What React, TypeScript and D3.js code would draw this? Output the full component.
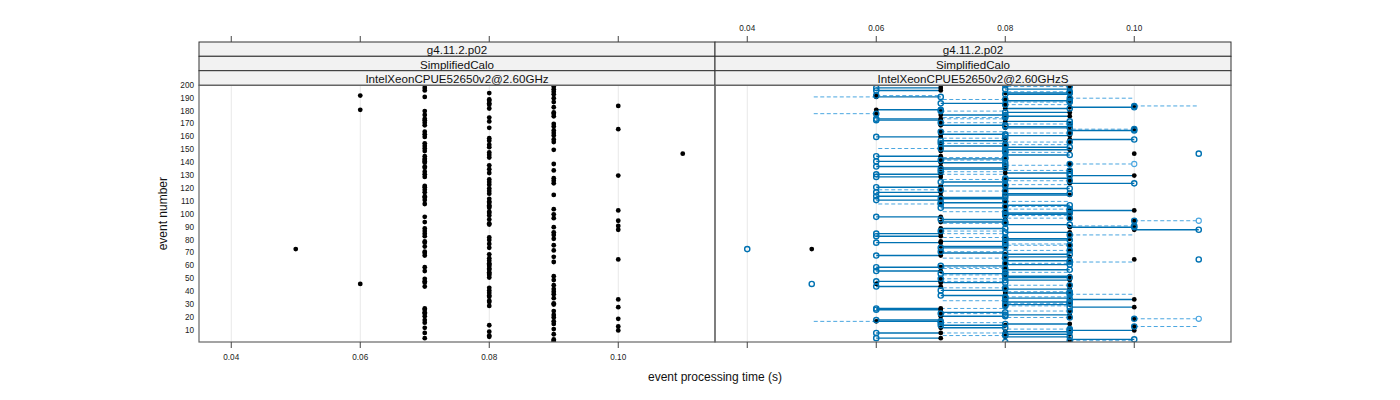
import React from "react";
import * as d3 from "d3";

// ---------- data ----------
const stripTop = "g4.11.2.p02";
const stripMid = "SimplifiedCalo";
const panelNames = ["IntelXeonCPUE52650v2@2.60GHz", "IntelXeonCPUE52650v2@2.60GHzS"];
const xTicks = [0.04, 0.06, 0.08, 0.1];
const xTickLabels = ["0.04", "0.06", "0.08", "0.10"];
const yTicks = [10, 20, 30, 40, 50, 60, 70, 80, 90, 100, 110, 120, 130, 140, 150, 160, 170, 180, 190, 200];
const xLabel = "event processing time (s)";
const yLabel = "event number";

// event processing time in ms for events 1..200 (reference, left panel)
const timesRefMs = [
  90, 90, 90, 70, 80, 80, 90, 70, 80, 100,
  90, 70, 100, 80, 90, 70, 90, 70, 100, 90,
  70, 90, 70, 70, 90, 70, 70, 100, 80, 90,
  90, 80, 80, 100, 90, 80, 80, 90, 80, 90,
  80, 90, 80, 70, 90, 60, 70, 70, 90, 70,
  80, 90, 80, 80, 80, 70, 80, 80, 70, 80,
  80, 80, 90, 80, 100, 80, 90, 70, 80, 70,
  70, 90, 50, 80, 70, 90, 80, 70, 70, 80,
  90, 80, 70, 90, 70, 90, 70, 100, 70, 90,
  100, 80, 80, 70, 100, 80, 90, 70, 80, 90,
  80, 80, 100, 90, 80, 80, 80, 70, 80, 80,
  70, 80, 70, 70, 90, 80, 70, 80, 70, 80,
  70, 70, 80, 90, 80, 90, 80, 90, 70, 100,
  70, 80, 70, 90, 80, 70, 70, 80, 90, 70,
  70, 70, 70, 80, 70, 80, 110, 80, 70, 90,
  70, 80, 70, 80, 70, 90, 80, 90, 80, 70,
  90, 70, 90, 70, 90, 100, 80, 90, 70, 90,
  70, 80, 70, 70, 80, 90, 70, 90, 90, 70,
  60, 80, 90, 100, 80, 80, 90, 80, 80, 90,
  70, 60, 90, 80, 90, 70, 90, 70, 90, 70,
];

// right panel: black points
const timesSMs = [
  90, 90, 90, 70, 80, 80, 90, 70, 80, 100,
  90, 70, 100, 80, 90, 70, 60, 70, 100, 90,
  70, 90, 70, 70, 90, 70, 70, 100, 80, 90,
  90, 80, 80, 100, 90, 80, 80, 90, 80, 90,
  80, 90, 80, 70, 90, 60, 70, 70, 90, 70,
  80, 90, 80, 80, 80, 70, 80, 80, 70, 80,
  80, 80, 90, 80, 100, 80, 90, 70, 80, 70,
  70, 90, 50, 80, 70, 90, 80, 70, 70, 80,
  90, 80, 70, 90, 70, 90, 70, 100, 70, 90,
  100, 80, 80, 70, 100, 80, 90, 70, 80, 90,
  80, 80, 100, 90, 80, 80, 80, 70, 80, 80,
  70, 80, 70, 70, 90, 80, 70, 80, 70, 80,
  70, 70, 80, 90, 80, 90, 80, 90, 70, 100,
  70, 80, 70, 90, 80, 70, 70, 80, 90, 70,
  70, 70, 70, 80, 70, 80, 100, 80, 70, 90,
  70, 80, 70, 80, 70, 90, 80, 90, 80, 70,
  90, 70, 90, 70, 90, 100, 80, 90, 70, 90,
  70, 80, 70, 70, 80, 90, 70, 60, 90, 70,
  60, 80, 90, 100, 80, 80, 90, 80, 80, 90,
  60, 60, 90, 80, 90, 70, 90, 70, 90, 70,
];

// right panel: comparison run A (open circles, solid link)
const timesAMs = [
  80, 90, 100, 60, 90, 80, 80, 60, 90, 90,
  90, 80, 100, 70, 80, 70, 70, 60, 100, 90,
  80, 80, 70, 80, 90, 60, 60, 90, 80, 80,
  90, 90, 80, 90, 80, 80, 70, 90, 90, 90,
  70, 80, 80, 60, 90, 50, 80, 60, 80, 70,
  90, 80, 80, 70, 80, 60, 90, 80, 60, 70,
  90, 80, 90, 90, 110, 80, 80, 60, 90, 80,
  70, 90, 40, 70, 80, 90, 80, 60, 80, 90,
  80, 80, 60, 90, 60, 80, 70, 110, 80, 100,
  100, 90, 80, 80, 100, 70, 90, 60, 80, 80,
  90, 80, 90, 90, 70, 80, 90, 70, 70, 80,
  60, 70, 80, 60, 80, 90, 60, 80, 70, 90,
  60, 80, 80, 100, 70, 90, 80, 80, 60, 90,
  60, 90, 70, 90, 70, 80, 60, 80, 90, 80,
  60, 70, 80, 80, 60, 90, 110, 80, 80, 80,
  70, 90, 80, 80, 70, 90, 70, 100, 80, 60,
  80, 80, 90, 70, 100, 100, 90, 80, 80, 90,
  70, 90, 60, 60, 80, 80, 80, 60, 80, 70,
  70, 90, 100, 100, 80, 70, 90, 90, 80, 90,
  70, 60, 80, 90, 90, 60, 80, 60, 90, 80,
];
const unlinkedEvents = [46, 65, 73, 147];

// right panel: comparison run B (dashed link)
const timesBMs = [
  90, 100, 90, 70, 80, 70, 90, 80, 80, 100,
  80, 70, 110, 80, 90, 80, 50, 70, 110, 80,
  70, 90, 80, 70, 80, 70, 80, 100, 90, 90,
  80, 80, 70, 100, 90, 90, 80, 100, 80, 80,
  80, 90, 70, 70, 80, 60, 70, 80, 90, 80,
  80, 90, 70, 80, 90, 70, 80, 70, 80, 80,
  80, 90, 100, 80, 100, 70, 90, 70, 80, 70,
  80, 80, 50, 80, 70, 80, 90, 70, 70, 80,
  90, 70, 70, 100, 80, 90, 80, 100, 70, 90,
  90, 80, 70, 70, 110, 80, 80, 70, 90, 90,
  80, 70, 100, 80, 80, 90, 80, 60, 80, 90,
  70, 80, 70, 70, 90, 80, 70, 70, 60, 80,
  70, 70, 90, 90, 80, 80, 70, 90, 70, 100,
  80, 80, 80, 80, 80, 70, 70, 90, 100, 70,
  70, 80, 70, 70, 70, 80, 100, 90, 70, 90,
  60, 80, 70, 90, 80, 80, 80, 90, 70, 70,
  90, 70, 80, 80, 90, 90, 80, 90, 70, 80,
  80, 80, 70, 80, 70, 90, 70, 50, 90, 80,
  60, 80, 90, 110, 90, 80, 80, 80, 70, 100,
  50, 70, 90, 80, 80, 70, 90, 70, 80, 70,
];
// events whose run-B value is marked with a light open circle
const markedBEvents = [19, 95, 139, 74, 85, 36];

// ---------- layout ----------
const FONT = "'Liberation Sans', Arial, Helvetica, sans-serif";
const W = 1400;
const H = 400;
const plotTop = 85.3;
const plotBottom = 342;
const stripEdges = [42, 56.3, 70.7, 85.3];
const panelEdges = [[199, 715], [715, 1231]];
const frameColor = "#666";
const darkBlue = "#0072B2";
const lightBlue = "#4aa6e0";

export default function App() {
  const y = d3.scaleLinear().domain([1, 200]).range([plotBottom, plotTop]);
  const xs = panelEdges.map(([a, b]) => d3.scaleLinear().domain([0.035, 0.115]).range([a, b]));
  const ev = timesRefMs.map((_, i) => i + 1);
  const sec = (ms: number) => ms / 1000;

  return (
    <div style={{ position: "absolute", left: 0, top: 0 }}>
      <svg width={W} height={H} style={{ display: "block", fontFamily: FONT }}>
        <rect x={0} y={0} width={W} height={H} fill="white" />
        <defs>
          {panelEdges.map(([a, b], p) => (
            <clipPath id={`clip${p}`} key={p}>
              <rect x={a} y={plotTop} width={b - a} height={plotBottom - plotTop} />
            </clipPath>
          ))}
        </defs>

        {panelEdges.map(([a, b], p) => {
          const x = xs[p];
          return (
            <g key={`panel${p}`}>
              {xTicks.map((t) => (
                <line key={t} x1={x(t)} x2={x(t)} y1={plotTop} y2={plotBottom} stroke="#e8e8e8" strokeWidth={1} />
              ))}
              <g clipPath={`url(#clip${p})`}>
                {p === 0 &&
                  ev.map((e, i) => (
                    <circle key={e} cx={x(sec(timesRefMs[i]))} cy={y(e)} r={2.4} fill="black" />
                  ))}
                {p === 1 && (
                  <g>
                    {ev.map((e, i) =>
                      timesBMs[i] !== timesSMs[i] ? (
                        <line
                          key={`b${e}`}
                          x1={x(sec(timesSMs[i]))}
                          x2={x(sec(timesBMs[i]))}
                          y1={y(e)}
                          y2={y(e)}
                          stroke={lightBlue}
                          strokeWidth={1}
                          strokeDasharray="4 2.5"
                        />
                      ) : null
                    )}
                    {ev.map((e, i) =>
                      timesAMs[i] !== timesSMs[i] && !unlinkedEvents.includes(e) ? (
                        <line
                          key={`a${e}`}
                          x1={x(sec(timesSMs[i]))}
                          x2={x(sec(timesAMs[i]))}
                          y1={y(e)}
                          y2={y(e)}
                          stroke={darkBlue}
                          strokeWidth={1.4}
                        />
                      ) : null
                    )}
                    {ev.map((e, i) => (
                      <circle key={`s${e}`} cx={x(sec(timesSMs[i]))} cy={y(e)} r={2.4} fill="black" />
                    ))}
                    {ev.map((e, i) =>
                      markedBEvents.includes(e) ? (
                        <circle
                          key={`bc${e}`}
                          cx={x(sec(timesBMs[i]))}
                          cy={y(e)}
                          r={2.6}
                          fill="none"
                          stroke={lightBlue}
                          strokeWidth={1.1}
                        />
                      ) : null
                    )}
                    {ev.map((e, i) => (
                      <circle
                        key={`ac${e}`}
                        cx={x(sec(timesAMs[i]))}
                        cy={y(e)}
                        r={2.6}
                        fill="none"
                        stroke={darkBlue}
                        strokeWidth={1.4}
                      />
                    ))}
                  </g>
                )}
              </g>

              {[stripTop, stripMid, panelNames[p]].map((label, k) => (
                <g key={`strip${k}`}>
                  <rect
                    x={a}
                    y={stripEdges[k]}
                    width={b - a}
                    height={stripEdges[k + 1] - stripEdges[k]}
                    fill="#f2f2f2"
                    stroke="#333"
                    strokeWidth={1}
                  />
                  <text
                    x={(a + b) / 2}
                    y={(stripEdges[k] + stripEdges[k + 1]) / 2 + 0.5}
                    textAnchor="middle"
                    dominantBaseline="central"
                    fontSize={11.6}
                    fill="#111"
                  >
                    {label}
                  </text>
                </g>
              ))}

              <rect x={a} y={plotTop} width={b - a} height={plotBottom - plotTop} fill="none" stroke={frameColor} strokeWidth={1.2} />

              {xTicks.map((t, k) => (
                <g key={`tt${k}`}>
                  <line x1={x(t)} x2={x(t)} y1={stripEdges[0] - 6} y2={stripEdges[0]} stroke="#444" strokeWidth={1} />
                  {p === 1 && (
                    <text x={x(t)} y={28} textAnchor="middle" dominantBaseline="central" fontSize={8.2} fill="#222">
                      {xTickLabels[k]}
                    </text>
                  )}
                </g>
              ))}
              {xTicks.map((t, k) => (
                <g key={`bt${k}`}>
                  <line x1={x(t)} x2={x(t)} y1={plotBottom} y2={plotBottom + 6} stroke="#444" strokeWidth={1} />
                  {p === 0 && (
                    <text x={x(t)} y={357} textAnchor="middle" dominantBaseline="central" fontSize={8.2} fill="#222">
                      {xTickLabels[k]}
                    </text>
                  )}
                </g>
              ))}
            </g>
          );
        })}

        {yTicks.map((t) => (
          <text key={t} x={194} y={y(t)} textAnchor="end" dominantBaseline="central" fontSize={8.2} fill="#222">
            {t}
          </text>
        ))}

        <text x={715} y={377} textAnchor="middle" dominantBaseline="central" fontSize={12} fill="#111">
          {xLabel}
        </text>
        <text
          transform={`translate(163, ${(plotTop + plotBottom) / 2}) rotate(-90)`}
          textAnchor="middle"
          dominantBaseline="central"
          fontSize={12}
          fill="#111"
        >
          {yLabel}
        </text>
      </svg>
    </div>
  );
}
